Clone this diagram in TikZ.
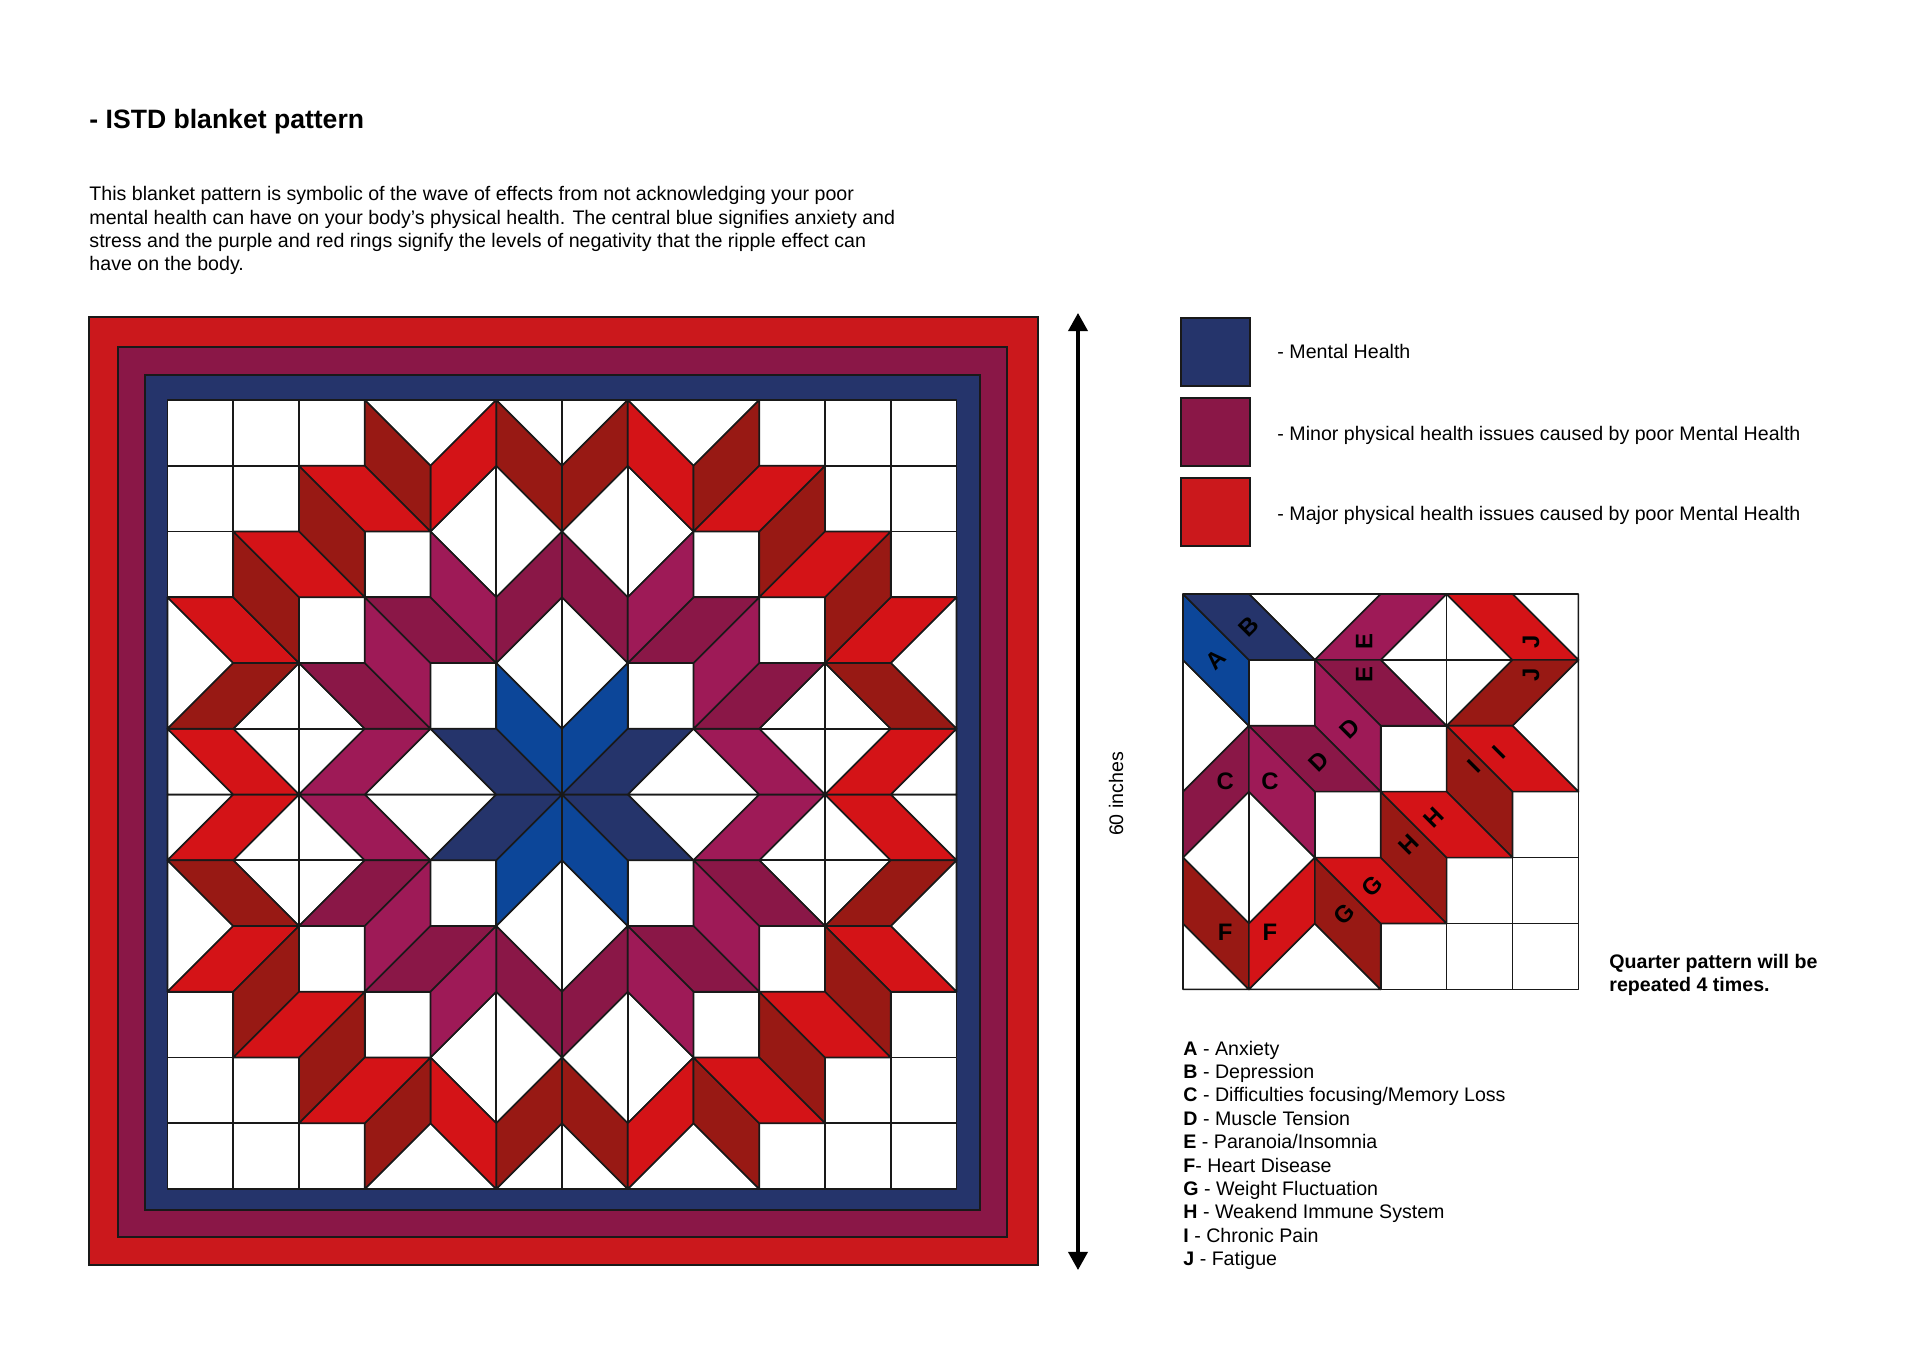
\documentclass[tikz,border=0pt]{standalone}
\usepackage{fontspec}
\setmainfont{Liberation Sans}
\usetikzlibrary{arrows.meta}

\definecolor{navyband}{RGB}{37,52,107}
\definecolor{anxblue}{RGB}{12,70,153}
\definecolor{plumdark}{RGB}{138,23,71}
\definecolor{plumlight}{RGB}{158,26,87}
\definecolor{reddark}{RGB}{152,25,20}
\definecolor{redbright}{RGB}{212,19,23}
\definecolor{redband}{RGB}{203,24,28}

\newcommand{\bodysize}{\fontsize{8.63}{10.2}\selectfont}

\tikzset{
  piece/.style={draw=black!90, line width=0.7pt, line join=round},
  cellbox/.style={piece, fill=white},
  pA/.style={piece, fill=anxblue},
  pB/.style={piece, fill=navyband},
  pML/.style={piece, fill=plumlight},
  pMD/.style={piece, fill=plumdark},
  pRB/.style={piece, fill=redbright},
  pRD/.style={piece, fill=reddark},
  band/.style={draw=black!90, line width=0.6pt},
  swatch/.style={draw=black!90, line width=0.8pt},
  letter/.style={inner sep=0pt, font=\bfseries\fontsize{10.5}{12}\selectfont},
  plain/.style={inner sep=0pt, anchor=base west, font=\bodysize},
}

% one quarter of the blanket, cell units, x right, y down
\newcommand{\quarterpieces}{%
  \foreach \cx/\cy in {1/1,3/2,2/3,5/3,4/4,5/4,3/5,4/5,5/5}
    \filldraw[cellbox] (\cx,\cy) rectangle +(1,1);
  \filldraw[cellbox] (1,0) -- (3,0) -- (2,1) -- cycle;
  \filldraw[cellbox] (0,1) -- (1,2) -- (0,3) -- cycle;
  \filldraw[cellbox] (5,0) -- (6,0) -- (6,1) -- cycle;
  \filldraw[cellbox] (6,1) -- (5,2) -- (6,3) -- cycle;
  \filldraw[cellbox] (0,5) -- (1,6) -- (0,6) -- cycle;
  \filldraw[cellbox] (1,6) -- (2,5) -- (3,6) -- cycle;
  \filldraw[cellbox] (4,0) -- (5,1) -- (4,2) -- (3,1) -- cycle;
  \draw[piece] (4,0) -- (4,2) (3,1) -- (5,1);
  \filldraw[cellbox] (0,4) -- (1,3) -- (2,4) -- (1,5) -- cycle;
  \draw[piece] (1,3) -- (1,5);
  % blue centre
  \filldraw[pA] (0,0) -- (1,1) -- (1,2) -- (0,1) -- cycle;
  \filldraw[pB] (0,0) -- (1,0) -- (2,1) -- (1,1) -- cycle;
  % purple ring
  \filldraw[pML] (2,1) -- (3,0) -- (4,0) -- (3,1) -- cycle;
  \filldraw[pMD] (2,1) -- (3,1) -- (4,2) -- (3,2) -- cycle;
  \filldraw[pML] (2,1) -- (3,2) -- (3,3) -- (2,2) -- cycle;
  \filldraw[pMD] (1,2) -- (2,2) -- (3,3) -- (2,3) -- cycle;
  \filldraw[pMD] (0,3) -- (1,2) -- (1,3) -- (0,4) -- cycle;
  \filldraw[pML] (1,2) -- (2,3) -- (2,4) -- (1,3) -- cycle;
  % red ring
  \filldraw[pRB] (4,0) -- (5,0) -- (6,1) -- (5,1) -- cycle;
  \filldraw[pRD] (4,2) -- (5,1) -- (6,1) -- (5,2) -- cycle;
  \filldraw[pRB] (4,2) -- (5,2) -- (6,3) -- (5,3) -- cycle;
  \filldraw[pRD] (4,2) -- (5,3) -- (5,4) -- (4,3) -- cycle;
  \filldraw[pRD] (3,3) -- (4,4) -- (4,5) -- (3,4) -- cycle;
  \filldraw[pRB] (3,3) -- (4,3) -- (5,4) -- (4,4) -- cycle;
  \filldraw[pRD] (0,4) -- (1,5) -- (1,6) -- (0,5) -- cycle;
  \filldraw[pRB] (1,5) -- (2,4) -- (2,5) -- (1,6) -- cycle;
  \filldraw[pRD] (2,4) -- (3,5) -- (3,6) -- (2,5) -- cycle;
  \filldraw[pRB] (2,4) -- (3,4) -- (4,5) -- (3,5) -- cycle;
}

\begin{document}
\begin{tikzpicture}[x=0.01547cm, y=-0.01547cm]
\useasboundingbox[fill=white] (0,0) rectangle (1920,1355);

% heading and text
\node[plain, font=\bfseries\fontsize{11.7}{13}\selectfont] (title) at (89,129) {- ISTD blanket pattern};
\node[plain] (body1) at (89,201) {This blanket pattern is symbolic of the wave of effects from not acknowledging your poor};
\node[plain] (body2) at (89,224.3) {mental health can have on your body’s physical health. The central blue signifies anxiety and};
\node[plain] (body3) at (89,247.6) {stress and the purple and red rings signify the levels of negativity that the ripple effect can};
\node[plain] (body4) at (89,270.9) {have on the body.};

% blanket borders
\filldraw[band, fill=redband] (89,317) rectangle (1038,1265);
\filldraw[band, fill=plumdark] (118,347) rectangle (1007,1237);
\filldraw[band, fill=navyband] (145,375) rectangle (980,1210);

% the four quarters
\foreach \sx/\sy in {1/1,-1/1,1/-1,-1/-1}{
  \begin{scope}[shift={(562,794.5)}, xscale=\sx*65.75, yscale=\sy*65.75]
    \quarterpieces
  \end{scope}
}

% size arrow
\coordinate (arrtop) at (1078,313);
\coordinate (arrbot) at (1078,1270);
\draw[line width=1.4pt, {Triangle[width=8.5pt,length=8pt]}-{Triangle[width=8.5pt,length=8pt]}] (arrtop) -- (arrbot);
\node[inner sep=0pt, rotate=90, font=\bodysize] (size) at (1116,794) {60 inches};

% colour legend
\filldraw[swatch, fill=navyband] (1181,318) rectangle (1250,386);
\filldraw[swatch, fill=plumdark] (1181,398) rectangle (1250,466);
\filldraw[swatch, fill=redband] (1181,478) rectangle (1250,546);
\node[plain] (leg1) at (1277,359) {- Mental Health};
\node[plain] (leg2) at (1277,440.5) {- Minor physical health issues caused by poor Mental Health};
\node[plain] (leg3) at (1277,520.5) {- Major physical health issues caused by poor Mental Health};

% quarter pattern with letters
\begin{scope}[shift={(1183,594)}, scale=65.9]
  \quarterpieces
  \node[letter, rotate=45] (lA) at (0.5,1.0) {A};
  \node[letter, rotate=45] (lB) at (1.0,0.5) {B};
  \node[letter, rotate=90] (lE1) at (2.75,0.72) {E};
  \node[letter, rotate=90] (lE2) at (2.75,1.22) {E};
  \node[letter, rotate=90] (lJ1) at (5.28,0.72) {J};
  \node[letter, rotate=90] (lJ2) at (5.28,1.22) {J};
  \node[letter, rotate=45] (lD1) at (2.53,2.04) {D};
  \node[letter, rotate=45] (lD2) at (2.06,2.54) {D};
  \node[letter] (lC1) at (0.64,2.84) {C};
  \node[letter] (lC2) at (1.32,2.84) {C};
  \node[letter, rotate=45] (lI1) at (4.41,2.61) {I};
  \node[letter, rotate=45] (lI2) at (4.79,2.41) {I};
  \node[letter, rotate=45] (lH1) at (3.42,3.80) {H};
  \node[letter, rotate=45] (lH2) at (3.80,3.40) {H};
  \node[letter, rotate=45] (lG1) at (2.44,4.86) {G};
  \node[letter, rotate=45] (lG2) at (2.87,4.43) {G};
  \node[letter] (lF1) at (0.64,5.14) {F};
  \node[letter] (lF2) at (1.32,5.14) {F};
\end{scope}

\node[plain, font=\bodysize\bfseries] (note1) at (1609,968.5) {Quarter pattern will be};
\node[plain, font=\bodysize\bfseries] (note2) at (1609,991.9) {repeated 4 times.};

% key
\node[plain] (keyA) at (1183,1055.2) {\textbf{A} - Anxiety};
\node[plain] (keyB) at (1183,1078.6) {\textbf{B} - Depression};
\node[plain] (keyC) at (1183,1102) {\textbf{C} - Difficulties focusing/Memory Loss};
\node[plain] (keyD) at (1183,1125.4) {\textbf{D} - Muscle Tension};
\node[plain] (keyE) at (1183,1148.8) {\textbf{E} - Paranoia/Insomnia};
\node[plain] (keyF) at (1183,1172.2) {\textbf{F}- Heart Disease};
\node[plain] (keyG) at (1183,1195.6) {\textbf{G} - Weight Fluctuation};
\node[plain] (keyH) at (1183,1219) {\textbf{H} - Weakend Immune System};
\node[plain] (keyI) at (1183,1242.4) {\textbf{I} - Chronic Pain};
\node[plain] (keyJ) at (1183,1265.8) {\textbf{J} - Fatigue};
\end{tikzpicture}
\end{document}
